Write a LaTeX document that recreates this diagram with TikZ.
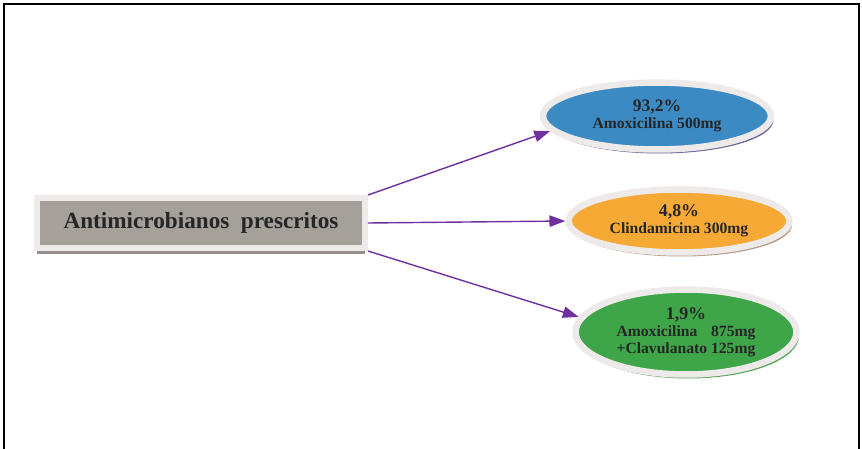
\documentclass[tikz,border=0pt]{standalone}
\usepackage{fontspec}
\setmainfont{Liberation Serif}
\usepackage{xcolor}
\usetikzlibrary{shapes.geometric,arrows.meta,shadows}

\definecolor{rimpale}{HTML}{EFEAEA}
\definecolor{boxgray}{HTML}{A6A09B}
\definecolor{drugblue}{HTML}{3B8AC4}
\definecolor{drugorange}{HTML}{F6A935}
\definecolor{druggreen}{HTML}{3EA648}
\definecolor{arrowpurple}{HTML}{7030A0}

\tikzset{
    drug/.style={ellipse, draw=rimpale, line width=0.13cm, inner sep=0pt,
        align=center, text=black!85, font=\bfseries\fontsize{8.9}{9.8}\selectfont},
    link/.style={arrowpurple, line width=0.8pt, -{Triangle[length=9pt, width=6.5pt]}}
}

\begin{document}
\begin{tikzpicture}[x=0.02cm, y=-0.02cm]
    \useasboundingbox (0,0) rectangle (862,449);

    % Frame
    \draw[line width=1.5pt] (4,449) -- (4,4) -- (859,4) -- (859,449);

    % Main box
    \node[draw=rimpale, fill=boxgray, line width=0.12cm, minimum width=6.56cm,
        minimum height=1cm, inner sep=0pt, text=black!85,
        font=\bfseries\fontsize{13.2}{15}\selectfont,
        drop shadow={shadow xshift=0cm, shadow yshift=-0.12cm, fill=boxgray!90!black, opacity=1}]
        (prescribed) at (201,223) {Antimicrobianos\ \ prescritos};

    % Drugs
    \node[drug, fill=drugblue, minimum width=4.56cm, minimum height=1.34cm,
        drop shadow={shadow xshift=0.05cm, shadow yshift=-0.08cm, fill=gray!80!blue, opacity=1}]
        (amox) at (657,116) {{\fontsize{10}{10}\selectfont 93,2\%}\\Amoxicilina 500mg};
    \node[drug, fill=drugorange, minimum width=4.42cm, minimum height=1.26cm,
        drop shadow={shadow xshift=0.05cm, shadow yshift=-0.08cm, fill=brown!50!gray!80, opacity=1}]
        (clinda) at (679,221) {{\fontsize{10.2}{10}\selectfont 4,8\%}\\Clindamicina 300mg};
    \node[drug, fill=druggreen, minimum width=4.42cm, minimum height=1.7cm,
        drop shadow={shadow xshift=0.05cm, shadow yshift=-0.08cm, fill=gray!70!green, opacity=1}]
        (amoxclav) at (686,332) {{\fontsize{10.2}{10}\selectfont 1,9\%}\\Amoxicilina\hspace{0.88em}875mg\\+Clavulanato 125mg};

    % Arrows
    \draw[link] (prescribed.north east) -- (amox.188);
    \draw[link] (prescribed.east) -- (clinda.west);
    \draw[link] (prescribed.south east) -- (amoxclav.172);
\end{tikzpicture}
\end{document}
